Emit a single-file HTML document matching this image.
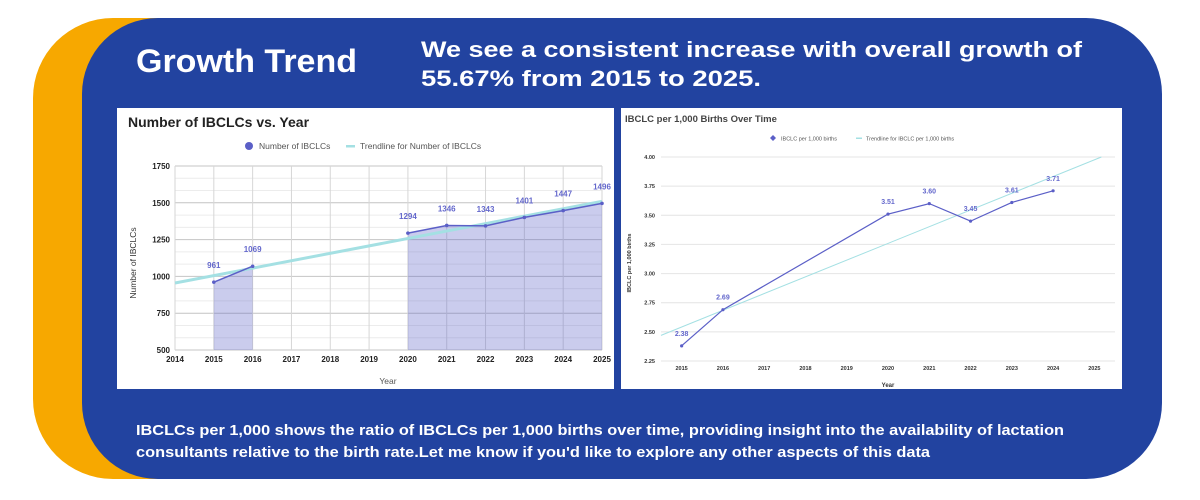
<!DOCTYPE html>
<html><head><meta charset="utf-8"><style>
html,body{margin:0;padding:0;background:#fff;}
svg{display:block;font-family:"Liberation Sans",Arial,sans-serif;}
</style></head><body>
<svg id="s" width="1200" height="500" viewBox="0 0 1200 500">
<path d="M113,18 H600 V479 H113 A80,80 0 0 1 33,399 V98 A80,80 0 0 1 113,18 Z" fill="#f7a800"/>
<rect x="82" y="18" width="1080" height="461" rx="76" fill="#2243a0"/>
<text x="136" y="72" font-size="32" font-weight="bold" fill="#fff" textLength="221" lengthAdjust="spacingAndGlyphs">Growth Trend</text>
<text x="421" y="57" font-size="22" font-weight="bold" fill="#fff" textLength="661" lengthAdjust="spacingAndGlyphs">We see a consistent increase with overall growth of</text>
<text x="421" y="86" font-size="22" font-weight="bold" fill="#fff" textLength="340" lengthAdjust="spacingAndGlyphs">55.67% from 2015 to 2025.</text>
<text x="136" y="435" font-size="15" font-weight="bold" fill="#fff" textLength="928" lengthAdjust="spacingAndGlyphs">IBCLCs per 1,000 shows the ratio of IBCLCs per 1,000 births over time, providing insight into the availability of lactation</text>
<text x="136" y="457" font-size="15" font-weight="bold" fill="#fff" textLength="794" lengthAdjust="spacingAndGlyphs">consultants relative to the birth rate.Let me know if you'd like to explore any other aspects of this data</text>

<g id="c1">
<rect x="117" y="108" width="497" height="281" fill="#fff"/>
<text x="128" y="127" font-size="14" font-weight="bold" fill="#222">Number of IBCLCs vs. Year</text>
<circle cx="249" cy="146" r="4" fill="#5b5fc7"/>
<text x="259" y="149" font-size="8.5" fill="#555">Number of IBCLCs</text>
<rect x="346" y="145" width="9" height="2.5" fill="#a4e0e3"/>
<text x="360" y="149" font-size="8.5" fill="#555">Trendline for Number of IBCLCs</text>
<text transform="translate(136,263) rotate(-90)" text-anchor="middle" font-size="8.5" fill="#333">Number of IBCLCs</text>
<text x="388" y="384" text-anchor="middle" font-size="8.5" fill="#555">Year</text>
</g>

<g id="c2">
<rect x="621" y="108" width="501" height="281" fill="#fff"/>
<text x="625" y="122" font-size="9.5" font-weight="bold" fill="#444">IBCLC per 1,000 Births Over Time</text>
<path d="M773,135 l3,3 l-3,3 l-3,-3 Z" fill="#5b5fc7"/>
<text x="781" y="140.5" font-size="5.5" fill="#555">IBCLC per 1,000 births</text>
<rect x="856" y="137.5" width="6" height="1.5" fill="#a4e0e3"/>
<text x="866" y="140.5" font-size="5.5" fill="#555">Trendline for IBCLC per 1,000 births</text>
<text transform="translate(631,263) rotate(-90)" text-anchor="middle" font-size="5.5" font-weight="bold" fill="#333">IBCLC per 1,000 births</text>
<text x="888" y="387" text-anchor="middle" font-size="6" font-weight="bold" fill="#333">Year</text>
</g>
</svg>
<script>
var NS='http://www.w3.org/2000/svg';
// Chart 1 data
var c1Years=[2014,2015,2016,2017,2018,2019,2020,2021,2022,2023,2024,2025];
var c1Values=[null,961,1069,null,null,null,1294,1346,1343,1401,1447,1496];
var c1YTicks=[500,750,1000,1250,1500,1750];
var c1Trend=[955,1510];
// Chart 2 data
var c2Years=[2015,2016,2017,2018,2019,2020,2021,2022,2023,2024,2025];
var c2Values=[2.38,2.69,null,null,null,3.51,3.60,3.45,3.61,3.71,null];
var c2Labels=['2.38','2.69',null,null,null,'3.51','3.60','3.45','3.61','3.71',null];
var c2YTicks=[2.25,2.50,2.75,3.00,3.25,3.50,3.75,4.00];
var c2Trend=[2.47,4.00];

function mk(parent,tag,attrs){var e=document.createElementNS(NS,tag);for(var k in attrs)e.setAttribute(k,attrs[k]);parent.appendChild(e);return e;}

// ---- Chart 1
var g1=document.getElementById('c1');
var x1=function(yr){return 175+(yr-2014)*(602-175)/11;};
var y1=function(v){return 350-(v-500)*(350-166)/1250;};
for(var k=0;k<=15;k++){
  var v=500+k*250/3;
  var ln=mk(g1,'line',{x1:175,x2:602,y1:y1(v),y2:y1(v),stroke:(k%3===0)?'#c4c4c4':'#ececec','stroke-width':1});
  
  
}
c1Years.forEach(function(yr){
  var ln=mk(g1,'line',{x1:x1(yr),x2:x1(yr),y1:166,y2:350,stroke:'#d6d6d6','stroke-width':1});
  
  
  var t=mk(g1,'text',{x:x1(yr),y:362,'text-anchor':'middle','font-size':8,'font-weight':'bold',fill:'#222'});
  t.textContent=yr;
  
  
});
c1YTicks.forEach(function(v){
  var t=mk(g1,'text',{x:170,y:y1(v)+3,'text-anchor':'end','font-size':8,'font-weight':'bold',fill:'#222'});
  t.textContent=v;
  
  
});
var segs=[],cur=[];
c1Values.forEach(function(v,i){if(v==null){if(cur.length)segs.push(cur);cur=[];}else cur.push(i);});
if(cur.length)segs.push(cur);
segs.forEach(function(s){
  var d='M'+x1(c1Years[s[0]])+','+y1(500);
  s.forEach(function(i){d+=' L'+x1(c1Years[i])+','+y1(c1Values[i]);});
  d+=' L'+x1(c1Years[s[s.length-1]])+','+y1(500)+' Z';
  var a=mk(g1,'path',{d:d,fill:'#5b5fc7','fill-opacity':0.32});
  
  
});
var tr=mk(g1,'line',{x1:x1(2014),y1:y1(c1Trend[0]),x2:x1(2025),y2:y1(c1Trend[1]),stroke:'#a4e0e3','stroke-width':3});


segs.forEach(function(s){
  var d='';
  s.forEach(function(i,k){d+=(k?' L':'M')+x1(c1Years[i])+','+y1(c1Values[i]);});
  var p=mk(g1,'path',{d:d,fill:'none',stroke:'#5b5fc7','stroke-width':1.5});
  
  
});
c1Values.forEach(function(v,i){
  if(v==null)return;
  var c=mk(g1,'circle',{cx:x1(c1Years[i]),cy:y1(v),r:1.8,fill:'#5b5fc7'});
  
  
  var t=mk(g1,'text',{x:x1(c1Years[i]),y:y1(v)-14,'text-anchor':'middle','font-size':8,'font-weight':'bold',fill:'#6468cc'});
  t.textContent=v;
  
  
});

// ---- Chart 2
var g2=document.getElementById('c2');
var step=(1115-661)/c2Years.length;
var x2=function(i){return 661+step*(i+0.5);};
var y2=function(v){return 361-(v-2.25)*(361-157)/1.75;};
c2YTicks.forEach(function(v){
  var ln=mk(g2,'line',{x1:661,x2:1115,y1:y2(v),y2:y2(v),stroke:'#e4e4e4','stroke-width':1});
  
  
  var t=mk(g2,'text',{x:655,y:y2(v)+2,'text-anchor':'end','font-size':5.5,'font-weight':'bold',fill:'#333'});
  t.textContent=v.toFixed(2);
  
  
});
c2Years.forEach(function(yr,i){
  var t=mk(g2,'text',{x:x2(i),y:370,'text-anchor':'middle','font-size':5.5,'font-weight':'bold',fill:'#333'});
  t.textContent=yr;
  
  
});
var tx0=661,tx1=x2(c2Years.length-1)+7;
var tr2=mk(g2,'line',{x1:tx0,y1:y2(c2Trend[0]),x2:tx1,y2:y2(c2Trend[1]),stroke:'#a4e0e3','stroke-width':1});


var d2='',first=true;
c2Values.forEach(function(v,i){if(v==null)return;d2+=(first?'M':' L')+x2(i)+','+y2(v);first=false;});
var p2=mk(g2,'path',{d:d2,fill:'none',stroke:'#5b5fc7','stroke-width':1.2});


c2Values.forEach(function(v,i){
  if(v==null)return;
  var c=mk(g2,'circle',{cx:x2(i),cy:y2(v),r:1.6,fill:'#5b5fc7'});
  
  
  var t=mk(g2,'text',{x:x2(i),y:y2(v)-10,'text-anchor':'middle','font-size':7,'font-weight':'bold',fill:'#6468cc'});
  t.textContent=c2Labels[i];
  
  
});
</script>
</body></html>
